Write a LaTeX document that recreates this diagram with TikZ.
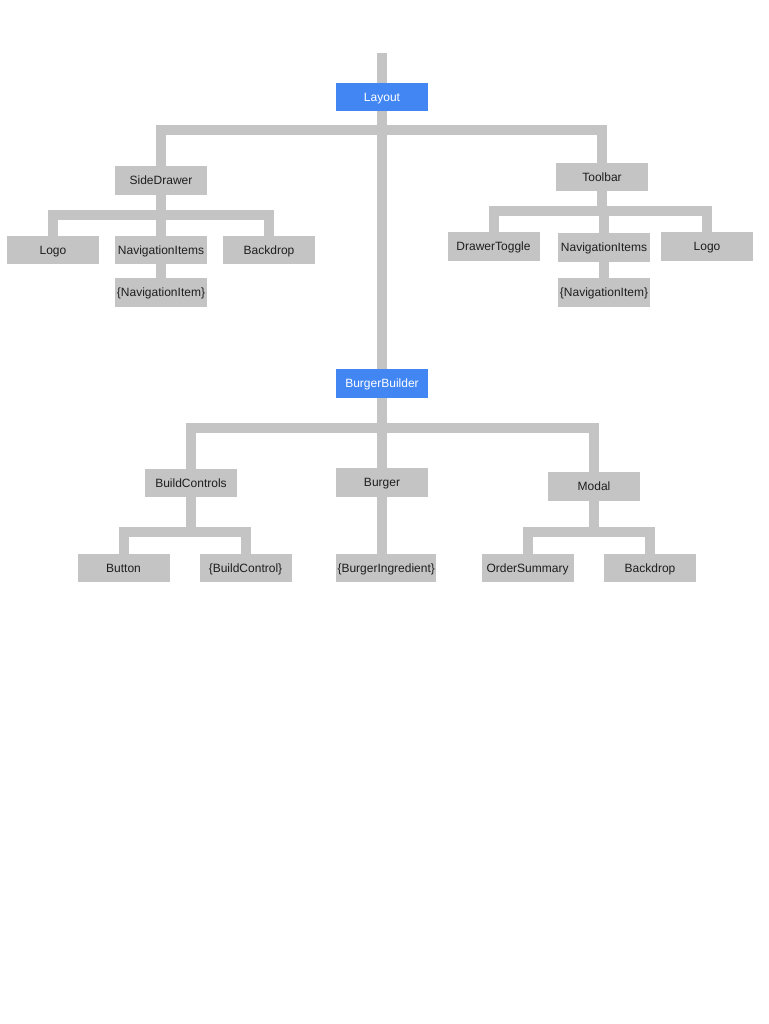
\documentclass[tikz,border=0pt]{standalone}
\usepackage{fontspec}
\setmainfont{Liberation Sans}
\usepackage{tikz}
\usetikzlibrary{positioning,backgrounds}
\definecolor{boxgray}{HTML}{C4C4C4}
\definecolor{topblue}{HTML}{4286F4}
\definecolor{textdark}{HTML}{1E1E1E}
\tikzset{cbox/.style={rectangle,fill=boxgray,text=textdark,inner sep=0pt,minimum width=92,minimum height=28.5,
		text height=8.6pt,text depth=0pt,font=\fontsize{12}{14}\selectfont},
	 tbox/.style={cbox,fill=topblue,text=white},
	 link/.style={draw=boxgray,line width=10pt,line join=miter}
	 }

\begin{document}
\begin{tikzpicture}[x=1pt,y=-1pt]
	\useasboundingbox (0,0) rectangle (768,1024);

	\node[tbox] (layout) at (382,97) {Layout};
	\coordinate (root) at (382,53);
	\coordinate (j1) at (382,130);

	\node[cbox] (sidedrawer) at (161,180.5) {SideDrawer};
	\node[cbox] (logo1) at (53,250) {Logo};
	\node[cbox] (nav1) at (161,250) {NavigationItems};
	\node[cbox] (backdrop1) at (269,250) {Backdrop};
	\node[cbox] (navitem1) at (161,292.5) {\{NavigationItem\}};
	\coordinate (j2) at (161,215);

	\node[cbox] (toolbar) at (602,177) {Toolbar};
	\node[cbox] (toggle) at (493.5,246.5) {DrawerToggle};
	\node[cbox] (nav2) at (604,247.5) {NavigationItems};
	\node[cbox] (logo2) at (707,246.5) {Logo};
	\node[cbox] (navitem2) at (604,292.5) {\{NavigationItem\}};
	\coordinate (j3) at (602,211);

	\node[tbox] (builder) at (382,383.5) {BurgerBuilder};
	\coordinate (j4) at (382,428);

	\node[cbox] (controls) at (191,483) {BuildControls};
	\node[cbox] (button) at (123.5,568) {Button};
	\node[cbox] (buildctrl) at (245.5,568) {\{BuildControl\}};
	\coordinate (j5) at (191,532);

	\node[cbox] (burger) at (382,482.5) {Burger};
	\node[cbox,minimum width=100,anchor=west] (ingredient) at (336,568) {\{BurgerIngredient\}};

	\node[cbox] (modal) at (594,486.5) {Modal};
	\node[cbox] (summary) at (527.5,568) {OrderSummary};
	\node[cbox] (backdrop2) at (650,568) {Backdrop};
	\coordinate (j6) at (594,532);

	\begin{scope}[on background layer]
	\draw[link] (root) to (builder);
	\draw[link] (sidedrawer.north) |- (j1) -| (toolbar.north);

	\draw[link] (sidedrawer) to (nav1); \draw[link] (nav1) to (navitem1);
	\draw[link] (logo1.north) |- (j2) -| (backdrop1.north);

	\draw[link] (toolbar) to (j3); \draw[link] (nav2.north) to (nav2.north |- j3);
	\draw[link] (toggle.north) |- (j3) -| (logo2.north);
	\draw[link] (nav2) to (nav2 |- navitem2.north);

	\draw[link] (controls.north) |- (j4) -| (modal.north);
	\draw[link] (builder) to (burger);

	\draw[link] (controls) to (j5);
	\draw[link] (button.north) |- (j5) -| (buildctrl.north);
	\draw[link] (burger) to (burger |- ingredient.north);

	\draw[link] (modal) to (j6);
	\draw[link] (summary.north) |- (j6) -| (backdrop2.north);
	\end{scope}
\end{tikzpicture}
\end{document}
